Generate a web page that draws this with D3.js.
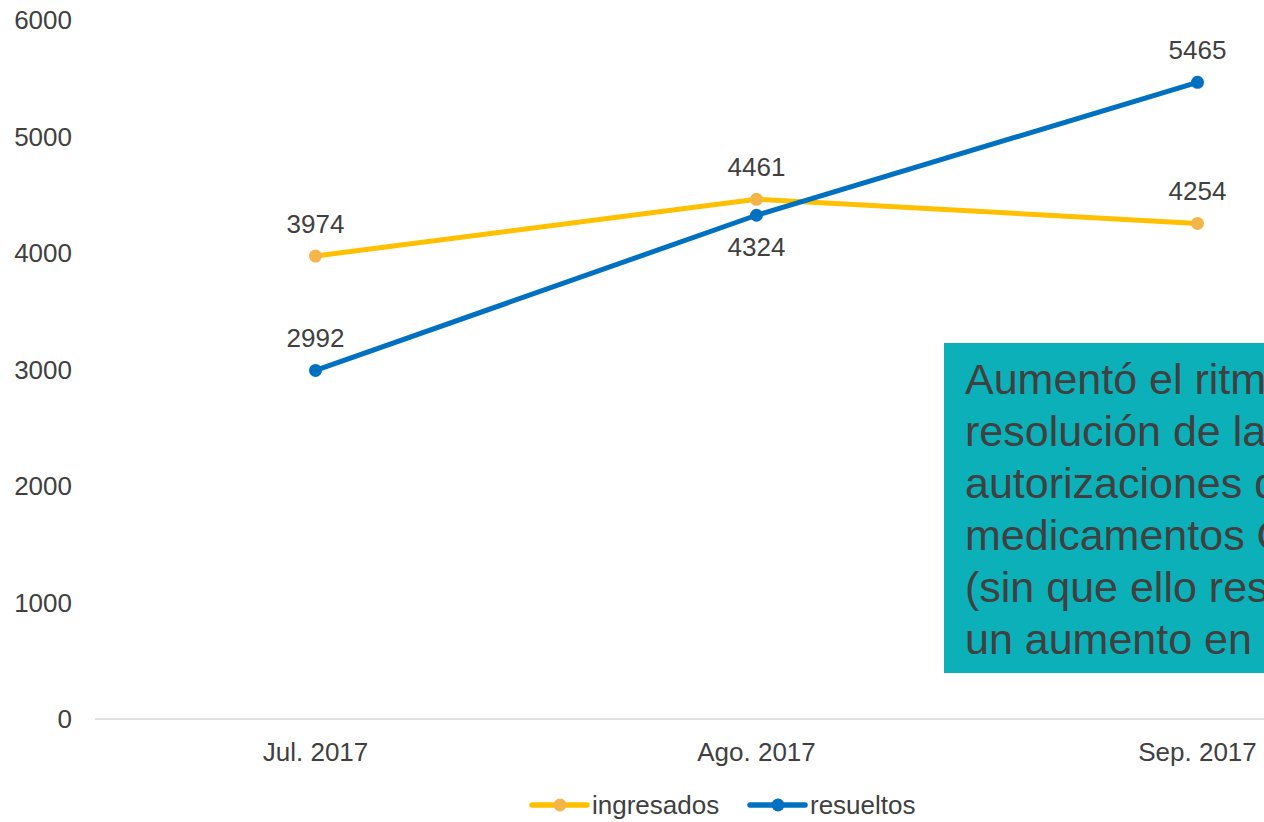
<!DOCTYPE html>
<head>
  <meta charset="utf-8">
  <script src="https://d3js.org/d3.v7.min.js"></script>
  <style>
    body { margin:0; background:#fff; overflow:hidden; }
    text { font-family: "Liberation Sans", Arial, sans-serif; fill:#404040; }
  </style>
</head>
<body>
<script>
  var months = ["Jul. 2017", "Ago. 2017", "Sep. 2017"];
  var ingresados = [3974, 4461, 4254];
  var resueltos = [2992, 4324, 5465];
  var yTicks = [0, 1000, 2000, 3000, 4000, 5000, 6000];
  var noteLines = ["Aumentó el ritmo de", "resolución de las", "autorizaciones de",
                   "medicamentos GES", "(sin que ello resulte en", "un aumento en los"];

  var width = 1264, height = 822;

  var series = [
    {name: "ingresados", values: ingresados, line: "#FFC000", dot: "#F4B548", above: [true, true, true]},
    {name: "resueltos", values: resueltos, line: "#0070C0", dot: "#0070C0", above: [true, false, true]}
  ];

  var svg = d3.select("body").append("svg")
    .attr("width", width)
    .attr("height", height);

  var xScale = d3.scaleBand()
    .domain(months)
    .range([95, 1418])
    .padding(0);

  var yScale = d3.scaleLinear()
    .domain([0, 6000])
    .range([719, 20]);

  function cx(d, i) { return xScale(months[i]) + xScale.bandwidth() / 2; }

  // y axis labels only
  svg.append("g").selectAll("text")
    .data(yTicks)
    .enter().append("text")
    .attr("x", 72)
    .attr("y", function(d) { return yScale(d); })
    .attr("dy", "0.35em")
    .attr("text-anchor", "end")
    .style("font-size", "26px")
    .text(function(d) { return d; });

  // baseline
  svg.append("line")
    .attr("x1", 95).attr("x2", 1418)
    .attr("y1", yScale(0)).attr("y2", yScale(0))
    .attr("stroke", "#d9d9d9")
    .attr("stroke-width", 1.5);

  // x labels
  svg.append("g").selectAll("text")
    .data(months)
    .enter().append("text")
    .attr("x", function(d, i) { return cx(d, i); })
    .attr("y", 761)
    .attr("text-anchor", "middle")
    .style("font-size", "26px")
    .text(function(d) { return d; });

  var line = d3.line()
    .x(function(d, i) { return cx(d, i); })
    .y(function(d) { return yScale(d); });

  series.forEach(function(s) {
    svg.append("path")
      .datum(s.values)
      .attr("d", line)
      .attr("fill", "none")
      .attr("stroke", s.line)
      .attr("stroke-width", 5)
      .attr("stroke-linejoin", "round");
  });

  series.forEach(function(s) {
    svg.append("g").selectAll("circle")
      .data(s.values)
      .enter().append("circle")
      .attr("cx", function(d, i) { return cx(d, i); })
      .attr("cy", function(d) { return yScale(d); })
      .attr("r", 6.5)
      .attr("fill", s.dot);

    svg.append("g").selectAll("text")
      .data(s.values)
      .enter().append("text")
      .attr("x", function(d, i) { return cx(d, i); })
      .attr("y", function(d, i) { return yScale(d) + (s.above[i] ? -23 : 41); })
      .attr("text-anchor", "middle")
      .style("font-size", "26px")
      .text(function(d) { return d; });
  });

  // note box
  var note = svg.append("g");
  note.append("rect")
    .attr("x", 944).attr("y", 343)
    .attr("width", 400).attr("height", 330)
    .attr("fill", "#0BB0B9");
  note.selectAll("text")
    .data(noteLines)
    .enter().append("text")
    .attr("x", 965)
    .attr("y", function(d, i) { return 394 + i * 52; })
    .style("font-size", "43px")
    .text(function(d) { return d; });

  // legend
  var legend = svg.append("g");
  var legendX = [532, 750];
  series.forEach(function(s, i) {
    var g = legend.append("g").attr("transform", "translate(" + legendX[i] + ",805)");
    g.append("line")
      .attr("x1", 0).attr("x2", 55)
      .attr("stroke", s.line).attr("stroke-width", 5.5)
      .attr("stroke-linecap", "round");
    g.append("circle").attr("cx", 28).attr("r", 6.5).attr("fill", s.dot);
    g.append("text")
      .attr("x", 60).attr("y", 9)
      .style("font-size", "26px")
      .text(s.name);
  });
</script>
</body>
